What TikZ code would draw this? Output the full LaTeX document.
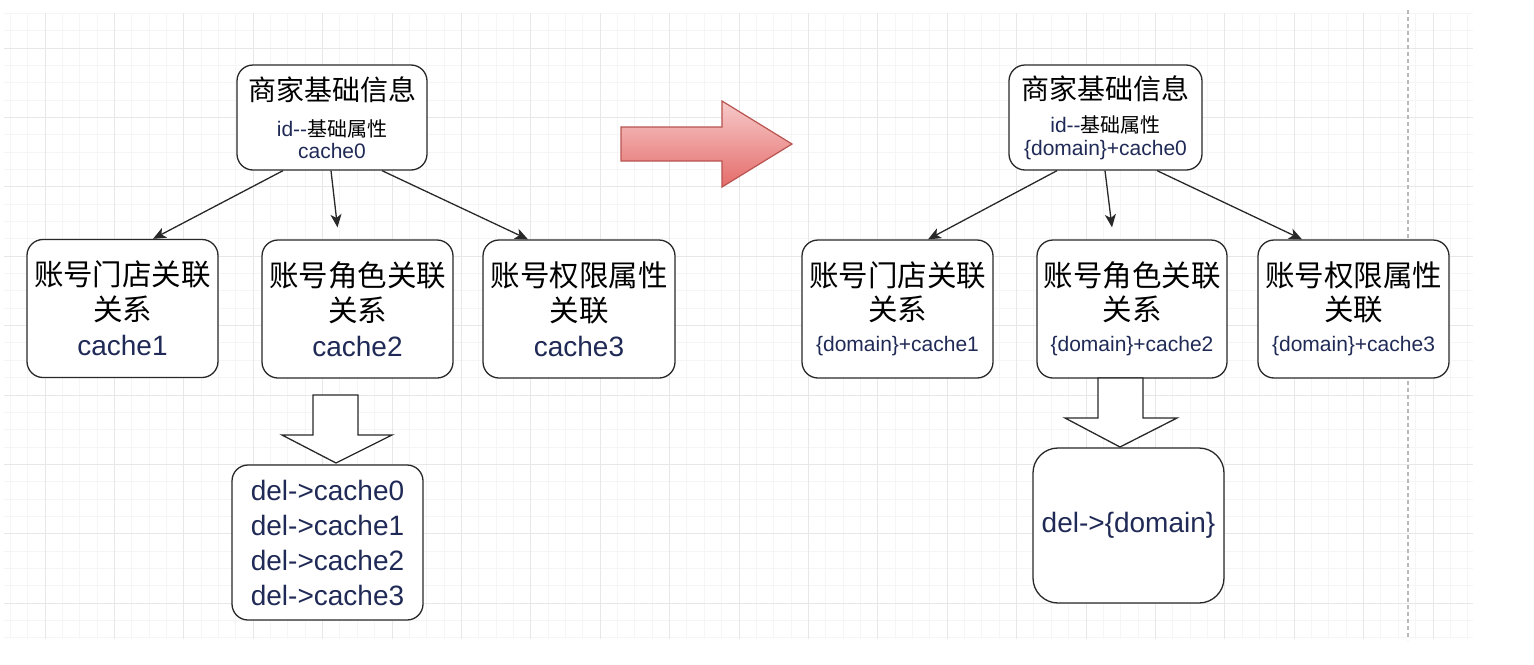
\documentclass[tikz,border=0pt]{standalone}
\usepackage{fontspec}
\setmainfont{Liberation Sans}
\newfontfamily\cjk{Noto Sans CJK SC}
\usetikzlibrary{calc,arrows.meta}
\definecolor{txtblue}{RGB}{32,42,86}
\definecolor{edgegray}{RGB}{40,40,40}
\definecolor{gridminor}{RGB}{245,245,245}
\definecolor{gridmajor}{RGB}{231,231,231}
\definecolor{guidegray}{RGB}{185,185,185}
\definecolor{redfill1}{RGB}{247,202,202}
\definecolor{redfill2}{RGB}{228,108,106}
\definecolor{redline}{RGB}{184,84,80}
\newcommand{\cjkbig}{\cjk\fontsize{28}{35}\selectfont}
\newcommand{\cjkmid}{\cjk\fontsize{29.5}{35}\selectfont}
\newcommand{\cjksmall}{\cjk\fontsize{20}{24}\selectfont}
\newcommand{\latbig}{\color{txtblue}\fontsize{28}{35}\selectfont}
\newcommand{\latsmall}{\color{txtblue}\fontsize{21}{24}\selectfont}
\tikzset{
    % rounded boxes
    box/.style={
        draw=edgegray, fill=white, line width=1.3pt, rounded corners=16pt,
        align=center, inner sep=0pt, minimum width=191pt, minimum height=138pt,
        font=\fontsize{28}{35}\selectfont
    },
    topbox/.style={box, minimum height=105pt},
    delbox/.style={box, minimum height=155pt},
    % connectors and block arrows
    arc/.style={-{Stealth[length=13pt,width=11pt,inset=3.5pt]}, line width=1.3pt, edgegray},
    blockarrow/.style={draw=edgegray, fill=white, line width=1.3pt, line join=miter},
    redarrow/.style={draw=redline, line width=1.2pt, top color=redfill1, bottom color=redfill2},
    % page grid
    minorgrid/.style={gridminor, line width=1pt},
    majorgrid/.style={gridmajor, line width=1pt},
    guide/.style={guidegray, line width=1.2pt, dash pattern=on 4pt off 3pt},
}

\begin{document}
\begin{tikzpicture}[x=1pt,y=-1pt]
    \useasboundingbox (0,0) rectangle (1534,664);
    % grid
    \foreach \i in {0,...,84}{\draw[minorgrid] ({10.3+17.35*\i},13) -- ({10.3+17.35*\i},639);}
    \foreach \j in {0,...,36}{\draw[minorgrid] (4,{13.3+17.35*\j}) -- (1473,{13.3+17.35*\j});}
    \foreach \i in {0,...,20}{\draw[majorgrid] ({45+69.4*\i},13) -- ({45+69.4*\i},639);}
    \foreach \j in {0,...,8}{\draw[majorgrid] (4,{48+69.4*\j}) -- (1473,{48+69.4*\j});}
    \draw[guide] (1408,10) -- (1408,640);

    % before
    \node[topbox,minimum width=190pt] (ltop) at (332,117.5)
        {\cjkbig 商家基础信息\\[1pt] \latsmall id-{}-{\cjksmall\color{black}基础属性}\\[-13pt] \latsmall cache0};
    \node[box] (lstore) at (122.5,308.5) {\cjkmid 账号门店关联\\ \cjkmid 关系\\ \latbig cache1};
    \node[box] (lrole) at (357.5,309) {\cjkmid 账号角色关联\\ \cjkmid 关系\\ \latbig cache2};
    \node[box,minimum width=192pt] (lperm) at (579,309) {\cjkmid 账号权限属性\\ \cjkmid 关联\\ \latbig cache3};
    \node[delbox] (ldel) at (327.5,542.5)
        {\latbig del->cache0\\ \latbig del->cache1\\ \latbig del->cache2\\ \latbig del->cache3};
    \draw[arc] ($(ltop.south)+(-49,0)$) -- ($(lstore.north)+(30.5,0)$);
    \draw[arc] ($(ltop.south)+(-1,0)$) -- ($(lrole.north)+(-20,-12)$);
    \draw[arc] ($(ltop.south)+(50,0)$) -- ($(lperm.north)+(-51,0)$);
    \coordinate (ldown) at (313,395);
    \draw[blockarrow] (ldown) -- ++(45,0) -- ++(0,40) -- ++(34,0) -- ++(-56,28)
        -- ++(-54,-28) -- ++(31,0) -- cycle;

    % change
    \draw[redarrow] (621,127) -- (722,127) -- (722,101) -- (792,144)
        -- (722,187) -- (722,161) -- (621,161) -- cycle;

    % after
    \node[topbox,minimum width=193pt] (rtop) at (1105.5,117.5)
        {\cjkbig 商家基础信息\\[-2pt] \latsmall id-{}-{\cjksmall\color{black}基础属性}\\[-12pt] \latsmall \{domain\}+cache0};
    \node[box] (rstore) at (897.5,309) {\cjkmid 账号门店关联\\[-1pt] \cjkmid 关系\\[-4pt] \latsmall \{domain\}+cache1};
    \node[box,minimum width=190pt] (rrole) at (1132,309) {\cjkmid 账号角色关联\\[-1pt] \cjkmid 关系\\[-4pt] \latsmall \{domain\}+cache2};
    \node[box] (rperm) at (1353.5,309) {\cjkmid 账号权限属性\\[-1pt] \cjkmid 关联\\[-4pt] \latsmall \{domain\}+cache3};
    \node[delbox,rounded corners=25pt] (rdel) at (1128.5,525.5) {\latbig del->\{domain\}};
    \draw[arc] ($(rtop.south)+(-48.5,0)$) -- ($(rstore.north)+(30.5,0)$);
    \draw[arc] ($(rtop.south)+(-0.5,0)$) -- ($(rrole.north)+(-20,-12)$);
    \draw[arc] ($(rtop.south)+(51.5,0)$) -- ($(rperm.north)+(-51.5,0)$);
    \coordinate (rdown) at (1098,378);
    \draw[blockarrow] (rdown) -- ++(45,0) -- ++(0,40) -- ++(34,0) -- ++(-57,29)
        -- ++(-55,-29) -- ++(33,0) -- cycle;
\end{tikzpicture}
\end{document}
